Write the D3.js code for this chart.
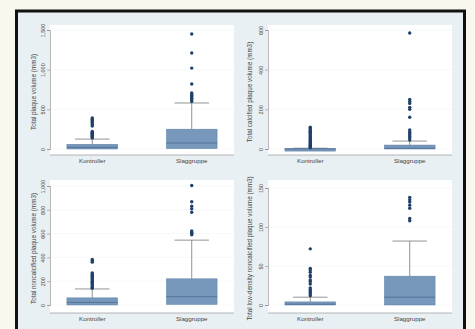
<!DOCTYPE html>
<html><head><meta charset="utf-8">
<script src="https://cdn.jsdelivr.net/npm/d3@7"></script>
<style>body{margin:0;background:#f8f8ef;}svg{display:block;}</style>
</head><body>
<svg id="c" width="475" height="329"></svg>
<script>
const categories = ["Kontroller", "Slaggruppe"];
const titles = [
  "Total plaque volume (mm3)",
  "Total calcified plaque volume (mm3)",
  "Total noncalcified plaque volume (mm3)",
  "Total low-density noncalcified plaque volume (mm3)"
];
const yTicks = [[0, 500, 1000, 1500], [0, 200, 400, 600], [0, 200, 400, 600, 800, 1000], [0, 50, 100, 150]];
// [q1, median, q3, whiskerLow, whiskerHigh] per category
const p1Boxes = [[0, 22, 60, 0, 125], [5, 75, 250, 0, 580]];
const p2Boxes = [[0, 1, 2, 0, 4], [0, 4, 20, 0, 40]];
const p3Boxes = [[0, 22, 60, 0, 135], [5, 70, 220, 0, 545]];
const p4Boxes = [[0, 1, 4, 0, 10], [0, 10, 37, 0, 82]];
const p1Out = [[140, 150, 160, 170, 180, 190, 200, 210, 220, 290, 310, 330, 345, 360, 375, 390], [600, 620, 640, 660, 670, 690, 705, 820, 1020, 1210, 1450]];
const p2Out = [[6, 10, 14, 18, 22, 26, 30, 35, 40, 45, 50, 55, 60, 66, 72, 78, 84, 90, 96, 102, 110], [45, 55, 62, 70, 78, 86, 96, 160, 200, 210, 230, 240, 250, 585]];
const p3Out = [[140, 150, 160, 170, 180, 190, 200, 210, 220, 230, 240, 250, 260, 270, 360, 372, 383], [590, 600, 610, 622, 780, 808, 830, 868, 1004]];
const p4Out = [[12, 14, 16, 18, 20, 22, 27, 30, 32, 36, 38, 42, 45, 47, 72], [108, 111, 124, 128, 132, 135, 138]];

const boxes = [p1Boxes, p2Boxes, p3Boxes, p4Boxes];
const outs = [p1Out, p2Out, p3Out, p4Out];

const svg = d3.select("#c");
svg.append("rect").attr("x", 16.5).attr("y", 11).attr("width", 448).attr("height", 330)
  .attr("fill", "#e9f0f3").attr("stroke", "#111").attr("stroke-width", 3);

const panels = [
  {px0: 50, px1: 234, py0: 25, py1: 155, ytop: 30, ybot: 149, tx: 36},
  {px0: 268, px1: 452, py0: 25, py1: 155, ytop: 30, ybot: 149, tx: 252},
  {px0: 50, px1: 234, py0: 180, py1: 313, ytop: 186, ybot: 305, tx: 36},
  {px0: 268, px1: 452, py0: 180, py1: 313, ytop: 188, ybot: 305, tx: 252}
];

const font = "Liberation Sans, Arial";
panels.forEach((p, i) => {
  const g = svg.append("g");
  g.append("rect").attr("x", p.px0).attr("y", p.py0).attr("width", p.px1 - p.px0).attr("height", p.py1 - p.py0)
    .attr("fill", "#fff");
  const top = yTicks[i][yTicks[i].length - 1];
  const y = d3.scaleLinear().domain([0, top]).range([p.ybot, p.ytop]);
  const x = d3.scaleBand().domain(categories).range([p.px0, p.px1]).paddingInner(0.49).paddingOuter(0.17);
  g.selectAll(".grid").data(yTicks[i]).join("line")
    .attr("x1", p.px0).attr("x2", p.px1).attr("y1", d => y(d)).attr("y2", d => y(d))
    .attr("stroke", "#f1f3f4").attr("stroke-width", 0.6);
  const ya = d3.axisLeft(y).tickValues(yTicks[i]).tickSize(3).tickFormat(d3.format(","));
  const ag = g.append("g").attr("transform", `translate(${p.px0},0)`).call(ya);
  ag.select(".domain").attr("stroke", "#888").attr("stroke-width", 0.6);
  ag.selectAll(".tick line").attr("stroke", "#888").attr("stroke-width", 0.6);
  ag.selectAll(".tick text").attr("fill", "#444").attr("font-size", 5.5).attr("font-family", font)
    .attr("transform", "rotate(-90)").attr("x", 0).attr("dy", 0).attr("y", -5).attr("text-anchor", "middle");
  const xa = d3.axisBottom(x).tickSize(0);
  const xg = g.append("g").attr("transform", `translate(0,${p.py1})`).call(xa);
  xg.select(".domain").remove();
  g.append("line").attr("x1", p.px0).attr("x2", p.px1).attr("y1", p.py1).attr("y2", p.py1)
    .attr("stroke", "#888").attr("stroke-width", 0.6);
  xg.selectAll(".tick text").attr("fill", "#444").attr("font-size", 6.2).attr("font-family", font).attr("dy", "0.85em");
  g.append("text").attr("transform", `translate(${p.tx},${(p.py0 + p.py1) / 2 + 2}) rotate(-90)`)
    .attr("text-anchor", "middle").attr("font-size", 6.3).attr("fill", "#444").attr("font-family", font)
    .text(titles[i]);
  categories.forEach((c, k) => {
    const b = boxes[i][k];
    const bx = x(c), bw = x.bandwidth();
    const cx = bx + bw / 2;
    g.append("line").attr("x1", cx).attr("x2", cx).attr("y1", y(b[2])).attr("y2", y(b[4]))
      .attr("stroke", "#666").attr("stroke-width", 0.7);
    g.append("line").attr("x1", cx - bw * 0.34).attr("x2", cx + bw * 0.34).attr("y1", y(b[4])).attr("y2", y(b[4]))
      .attr("stroke", "#666").attr("stroke-width", 0.7);
    g.append("rect").attr("x", bx).attr("width", bw).attr("y", y(b[2])).attr("height", Math.max(2.5, y(b[0]) - y(b[2])))
      .attr("fill", "#7797bb").attr("stroke", "#5f81a8").attr("stroke-width", 0.5);
    g.append("line").attr("x1", bx).attr("x2", bx + bw).attr("y1", y(b[1])).attr("y2", y(b[1]))
      .attr("stroke", "#4a6b93").attr("stroke-width", 0.8);
    g.selectAll(null).data(outs[i][k]).join("circle")
      .attr("cx", cx).attr("cy", d => y(d)).attr("r", 1.7).attr("fill", "#1f4068");
  });
});
</script>
</body></html>
